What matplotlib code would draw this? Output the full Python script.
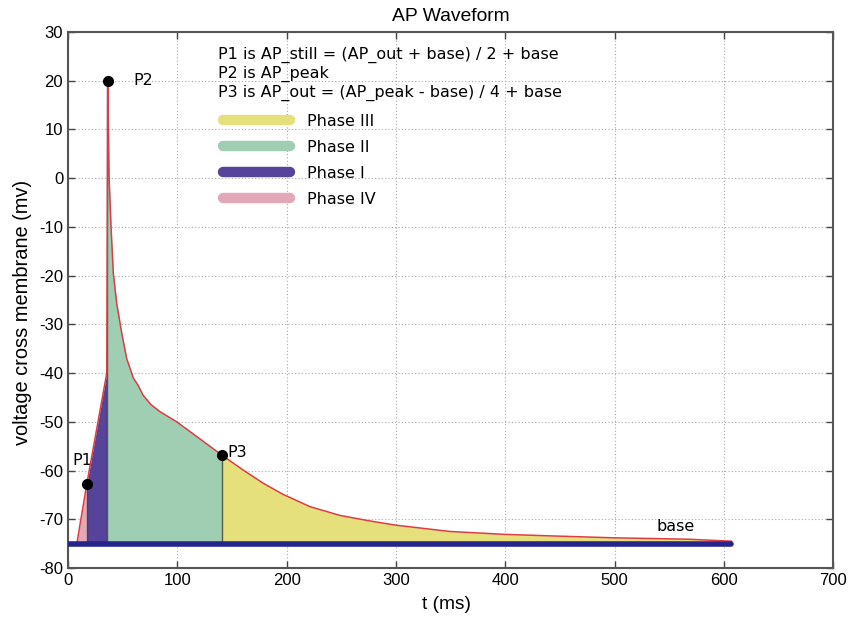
import matplotlib
matplotlib.use("Agg")
import matplotlib.pyplot as plt
from matplotlib.lines import Line2D
import numpy as np

plt.rcParams["axes.unicode_minus"] = False

# AP waveform (t in ms, v in mV)
t_ms = [8, 17.1, 35.4, 36.3, 36.9, 37.5, 39.3, 41.4, 44.5, 49.1, 53.6, 59.7, 64.3, 68.8,
        76, 84, 99.4, 117.6, 140.5, 160.2, 178.5, 196.8, 221.2, 248.6, 275, 299.5,
        349, 399.5, 440, 498, 568, 607]
v_mv = [-75, -62.8, -40, 20, 10.6, 0.3, -10, -19.5, -25.7, -31.8, -37, -41, -42.6, -44.6,
        -46.5, -47.9, -50, -53, -56.8, -59.9, -62.6, -64.9, -67.4, -69.2, -70.3, -71.2,
        -72.5, -73.1, -73.4, -73.8, -74.1, -74.5]

base = -75
base_t = [1, 607]

# key points
p_t = [17.1, 36.3, 140.5]
p_v = [-62.8, 20, -56.8]

# phases: (name, start ms, end ms)
phases = [("Phase IV", 8, 17.1), ("Phase I", 17.1, 35.4), ("Phase II", 35.4, 140.5), ("Phase III", 140.5, 607)]
phase_colors = {"Phase III": "#e6e07c", "Phase II": "#9fceb3", "Phase I": "#56439a", "Phase IV": "#e2a8b8"}
legend_order = ["Phase III", "Phase II", "Phase I", "Phase IV"]

notes = ["P1 is AP_still = (AP_out + base) / 2 + base",
         "P2 is AP_peak",
         "P3 is AP_out = (AP_peak - base) / 4 + base"]

arial = "Liberation Sans"
font_size = 12
small = 11.5

fig = plt.figure(figsize=(8.51, 6.19), dpi=100)
ax = fig.add_axes([0.080, 0.0824, 0.899, 0.866])

t = np.array(t_ms)
v = np.array(v_mv)
for name, t0, t1 in phases:
    i0 = np.searchsorted(t, t0)
    i1 = np.searchsorted(t, t1)
    ax.fill_between(t[i0:i1 + 1], v[i0:i1 + 1], base, color=phase_colors[name], linewidth=0, zorder=2)

ax.plot(t, v, color="#dc3d44", linewidth=1.1, zorder=4)
ax.vlines([p_t[0], 35.4, p_t[2]], base, p_v, color="#3a3a3a", linewidth=1, alpha=0.8, zorder=3)
ax.plot(base_t, [base, base], color="#24248c", linewidth=4, solid_capstyle="round", zorder=5)
ax.plot(p_t, p_v, "o", color="black", markersize=7, zorder=6)

ax.text(59.4, 20, "P2", fontsize=small, va="center", ha="left")
ax.text(3.7, -58.0, "P1", fontsize=small, va="center", ha="left")
ax.text(146, -56.3, "P3", fontsize=small, va="center", ha="left")
ax.text(556, -71.4, "base", fontsize=small, va="center", ha="center")

for i, line in enumerate(notes):
    ax.text(0.196, [0.957, 0.922, 0.886][i], line, transform=ax.transAxes, fontsize=small, va="center", ha="left")

handles = [Line2D([], [], color=phase_colors[n], linewidth=7.5, solid_capstyle="round") for n in legend_order]
ax.legend(handles, legend_order, loc="upper left", bbox_to_anchor=(0.203, 0.847), frameon=False,
          fontsize=small, handlelength=4.17, handletextpad=1.08, labelspacing=0.69, borderpad=0, borderaxespad=0)

ax.set_xlim(0, 700)
ax.set_ylim(-80, 30)
ax.set_xticks(range(0, 701, 100))
ax.set_yticks(range(-80, 31, 10))
ax.grid(True, linestyle=(0, (1, 2)), color="#a8a8a8", linewidth=0.8)
ax.tick_params(direction="in", top=True, right=True, length=5, width=1, colors="#444444", labelcolor="black")
for lab in ax.get_xticklabels() + ax.get_yticklabels():
    lab.set_fontfamily(arial)
    lab.set_fontsize(font_size)
for s in ax.spines.values():
    s.set_color("#555555")
    s.set_linewidth(1.5)

ax.set_title("AP Waveform", fontsize=13.9, fontfamily=arial, pad=8)
ax.set_xlabel("t (ms)", fontsize=13.8, fontfamily=arial)
ax.set_ylabel("voltage cross membrane (mv)", fontsize=14.4, fontfamily=arial)
ax.xaxis.set_label_coords(0.495, -0.069)
ax.yaxis.set_label_coords(-0.060, 0.476)
ax.xaxis.label.set_va("center")
ax.yaxis.label.set_va("center")

plt.savefig("out.png", dpi=100)
